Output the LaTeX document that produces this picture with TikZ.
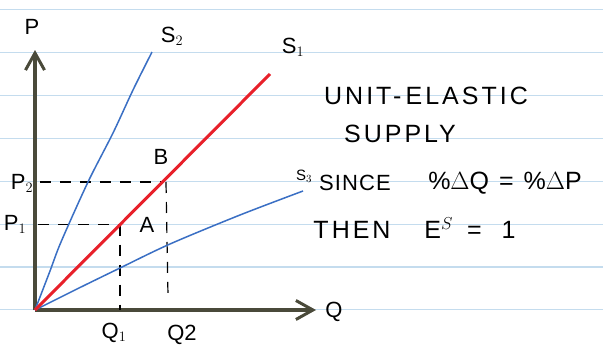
\documentclass[tikz,border=0pt]{standalone}
\usepackage{fontspec}
\setmainfont{Liberation Sans}
\usetikzlibrary{arrows.meta}
\definecolor{paperline}{HTML}{C4DCEE}
\definecolor{axiscol}{HTML}{4A4A3A}
\definecolor{redcurve}{HTML}{E8202A}
\definecolor{bluecurve}{HTML}{3A6FC4}
\tikzset{
  paper/.style={paperline, line width=1.2pt},
  axisline/.style={axiscol, line width=3.5pt, -{Straight Barb[length=17pt,width=19pt,line width=3pt]}},
  supplyred/.style={redcurve, line width=3pt},
  supplyblue/.style={bluecurve, line width=1.5pt},
  guide/.style={black, line width=1.2pt, dash pattern=on 11pt off 9pt},
  hand/.style={font=\fontsize{25}{27}\selectfont\addfontfeatures{LetterSpace=12}, inner sep=0pt},
  lbl/.style={font=\fontsize{22}{24}\selectfont, inner sep=0pt}
}
\begin{document}
\begin{tikzpicture}[x=1pt,y=-1pt]
\useasboundingbox (0,0) rectangle (603,351);
\fill[white] (0,0) rectangle (603,351);
% lined paper
\foreach \yy in {9.5,52.3,95.5,138.5,181.5,224.3,267,309.5}
  \draw[paper] (0,\yy) -- (603,\yy);
% key points
\coordinate (O) at (35,310);
\coordinate (Ptip) at (35,50);
\coordinate (Qtip) at (316,310);
\coordinate (S1end) at (270,74);
\coordinate (S2end) at (152,52);
\coordinate (S3end) at (303,191);
\coordinate (A) at (120,224.5);
\coordinate (B) at (163,182);
\coordinate (P1) at (38,224.5);
\coordinate (P2) at (40,182);
\coordinate (Q1) at (120,310);
\coordinate (Q2) at (168,296);
\coordinate (Btop) at (166,182);
% axes
\draw[axisline] (O) -- (Ptip);
\draw[axisline] (O) -- (Qtip);
% guides
\draw[guide] (P1) -- (A);
\draw[guide] (P2) -- (B);
\draw[guide] (A) -- (Q1);
\draw[guide] (Btop) -- (Q2);
% supply curves
\draw[supplyblue] plot[smooth,tension=0.5] coordinates {(O) (50,271) (61,242) (88,182) (113,133) (133,90) (S2end)};
\draw[supplyblue] plot[smooth] coordinates {(O) (77,289) (120,268) (170,244) (240,215) (S3end)};
\draw[supplyred] (O) -- (S1end);
% labels
\node[lbl] (lP) at (32,27) {P};
\node[lbl] (lQ) at (334,312) {Q};
\node[lbl] (lS2) at (172,36) {S$_2$};
\node[lbl] (lS1) at (293,47) {S$_1$};
\node[lbl] (lS3) at (304,176) {\fontsize{15}{16}\selectfont S$_3$};
\node[lbl] (lP2) at (22,183) {P$_2$};
\node[lbl] (lP1) at (15,224) {P$_1$};
\node[lbl] (lB) at (161,157) {B};
\node[lbl] (lA) at (147,225) {A};
\node[lbl] (lQ1) at (114,333) {Q$_1$};
\node[lbl] (lQ2) at (182,335) {Q2};
% text
\node[hand] (t1) at (426,96) {UNIT-\,ELASTIC};
\node[hand] (t2) at (400,134) {SUPPLY};
\node[hand,font=\fontsize{22}{24}\selectfont\addfontfeatures{LetterSpace=5}] (t3) at (355,183) {SINCE};
\node[hand] (t4) at (505,183) {\%$\Delta$Q = \%$\Delta$P};
\node[hand] (t5) at (352,230) {THEN};
\node[hand] (t6) at (470,228) {E$^{S}$\ \,=\ \ 1};
\end{tikzpicture}
\end{document}
